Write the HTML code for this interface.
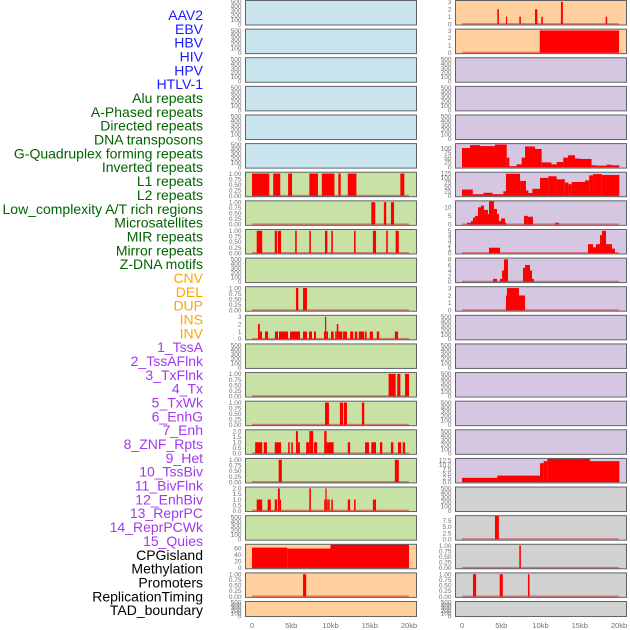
<!DOCTYPE html>
<html><head><meta charset="utf-8"><style>
html,body{margin:0;padding:0;background:#fff;}
svg{display:block;font-family:"Liberation Sans",sans-serif;}
</style></head><body>
<svg id="chart" width="630" height="630" viewBox="0 0 630 630" xmlns="http://www.w3.org/2000/svg">
<g id="labels"></g>
<g id="panels"></g>
<g id="xaxes"></g>
</svg>
<script>
// ---- track labels ----
const labelNames = ["AAV2","EBV","HBV","HIV","HPV","HTLV-1","Alu repeats","A-Phased repeats","Directed repeats","DNA transposons","G-Quadruplex forming repeats","Inverted repeats","L1 repeats","L2 repeats","Low_complexity A/T rich regions","Microsatellites","MIR repeats","Mirror repeats","Z-DNA motifs","CNV","DEL","DUP","INS","INV","1_TssA","2_TssAFlnk","3_TxFlnk","4_Tx","5_TxWk","6_EnhG","7_Enh","8_ZNF_Rpts","9_Het","10_TssBiv","11_BivFlnk","12_EnhBiv","13_ReprPC","14_ReprPCWk","15_Quies","CPGisland","Methylation","Promoters","ReplicationTiming","TAD_boundary"];
const labelGroups = [6,13,5,15,5];
const groupColors = ["#1a1aff","#006400","#ffa500","#a238f0","#000000"];

// ---- x axis ----
const xTickValues = [0,5,10,15,20];
const xTickLabels = ["0","5kb","10kb","15kb","20kb"];

// ---- panel data: [startKb, endKb, value] ----
const L6 = [[0,2.2,1],[2.7,3.6,1],[4.6,5.1,1],[7.3,8.4,1],[8.9,10.5,1],[11.0,11.3,1],[12.2,13.3,1],[18.9,19.4,1]];
const L7 = [[15.2,15.7,1],[16.8,17.1,1],[17.7,18.1,1]];
const L8 = [[0.6,1.3,1],[2.9,3.2,1],[3.3,3.7,1],[5.5,5.7,1],[7.3,7.5,1],[9.3,9.6,1],[10.1,10.3,1],[13.0,13.2,1],[15.4,15.8,1],[17.1,17.3,1],[18.3,18.7,1]];
const L10 = [[5.6,5.9,1],[6.5,7.0,1]];
const L11 = [[0.76,1.0,2],[1.0,1.27,1],[1.66,2.04,1],[2.93,3.31,1],[3.44,4.59,1],[4.84,6.11,1],[6.5,7.0,1],[7.26,7.64,1],[7.9,8.15,1],[9.17,9.3,1],[9.3,9.45,3],[9.45,9.68,1],[10.06,10.4,1],[10.6,10.8,1],[10.8,11.0,2],[11.0,11.5,1],[11.6,12.1,1],[12.5,12.9,1],[13.1,13.4,1],[13.6,14.3,1],[14.4,14.6,1],[15.0,15.4,1],[15.9,16.2,1],[18.2,18.6,1]];
const L13 = [[17.4,18.3,1],[18.5,18.9,1],[19.5,20.0,1]];
const L14 = [[9.3,9.8,1],[11.2,11.6,1],[11.7,12.1,1],[14.0,14.3,1]];
const L15 = [[0.4,1.3,1],[1.5,1.9,1],[2.9,3.7,1],[4.6,4.8,1],[5.0,5.2,1],[5.6,5.85,2],[5.85,6.1,1],[6.9,7.3,1],[7.3,7.8,2],[7.9,8.3,1],[9.2,9.5,2],[9.5,10.4,1],[12.2,12.5,1],[14.4,14.9,1],[15.2,15.8,1],[16.3,16.6,1],[17.7,18.0,1],[18.6,19.0,1],[19.2,19.5,1]];
const L16 = [[3.4,3.8,1],[18.2,18.7,1]];
const L17 = [[0.6,1.3,1],[2.0,2.4,1],[2.9,3.2,1],[3.3,3.55,2],[3.55,3.7,1],[7.3,7.5,2],[9.2,9.35,1],[9.35,9.5,2],[9.5,9.6,1],[9.7,9.9,1],[10.1,10.3,1],[12.2,12.5,1],[13.0,13.2,1],[15.4,15.8,1]];
const L19 = [[0,4.5,62],[4.5,10,59],[10,20,72]];
const L20 = [[6.5,6.9,1]];
const R0 = [[4.5,4.7,2],[5.6,5.75,1],[7.3,7.5,1],[9.3,9.6,2],[10.1,10.3,1],[12.6,12.85,3],[18.3,18.5,1]];
const R1 = [[9.9,20.0,3]];
const R5 = [[0,1.02,100],[1.02,2.29,115],[2.29,4.2,110],[4.2,5.7,118],[5.7,6.03,50],[6.03,6.96,5],[6.96,7.6,15],[7.6,8.03,50],[8.03,9.3,108],[9.3,10.15,95],[10.15,11.4,25],[11.4,12.05,15],[12.05,12.9,27],[12.9,13.5,50],[13.5,14.4,62],[14.4,15.03,45],[15.03,16.5,43],[16.5,17.15,10],[17.15,18.4,8],[18.4,19.07,13],[19.07,20.04,10]];
const R6 = [[0,1.37,35],[1.37,2.72,9],[2.72,3.9,17],[3.9,5.27,9],[5.27,5.6,25],[5.6,7.4,123],[7.4,8.15,83],[8.15,8.45,30],[8.45,8.96,16],[8.96,9.94,39],[9.94,11.0,100],[11.0,12.05,109],[12.05,13.1,92],[13.1,13.55,74],[13.55,13.97,65],[13.97,15.67,77],[15.67,16.2,86],[16.2,16.7,114],[16.7,17.8,121],[17.8,20.04,116]];
const R7 = [[0.64,1.15,1],[1.15,1.4,2],[1.4,1.66,4],[1.66,2.04,5],[2.04,2.42,10],[2.42,2.8,11],[2.8,3.31,8.5],[3.31,3.44,6],[3.44,4.07,14],[4.07,4.46,9],[4.46,4.71,6],[4.71,4.97,2],[4.97,5.48,3.5],[5.48,5.6,1],[7.9,8.4,5],[8.4,9.04,4.5],[11.85,12.36,1]];
const R8 = [[3.44,4.84,1.2],[16.05,16.69,2],[16.69,17.07,1.3],[17.07,17.58,2],[17.58,17.83,4],[17.83,18.35,5],[18.35,19.1,2],[19.1,19.49,1]];
const R9 = [[3.95,4.46,1],[4.84,5.1,1],[5.1,5.35,4],[5.35,5.86,8],[7.77,8.03,5],[8.03,8.66,6],[8.66,8.92,4],[8.92,9.17,1]];
const R10 = [[5.6,5.73,2],[5.73,7.26,3],[7.26,8.03,2]];
const R16 = [[0,4.5,2.4],[4.5,9.94,3.7],[9.94,10.4,10.8],[10.4,10.87,12],[10.87,16.3,13.5],[16.3,20.05,12]];
const R18 = [[4.2,4.7,10]];
const R19 = [[7.3,7.5,1]];
const R20 = [[1.4,1.8,1],[4.8,5.2,1],[8.4,8.6,1]];

// ---- tick label sets ----
const emptyTicks = [0,100,200,300,400,500];
const binTicks = [0,0.25,0.5,0.75,1];
const ticks3 = [0,1,2,3];
const ticks2 = [0,0.5,1,1.5,2];

const BLUE="#c9e4ec", GREEN="#c8e1a4", ORANGE="#ffd09e", PURPLE="#d5c6e2", GREY="#d1d1d1";
// column, row, bg, data, hi, ticks, decimals
const panels = [];
function P(col,row,bg,data,hi,ticks,dec,name){panels.push({col,row,bg,data,hi,ticks,dec,name});}
for(let r=0;r<6;r++) P(0,r,BLUE,null,500,emptyTicks,0,"left-empty-"+r);
P(0,6,GREEN,L6,1,binTicks,2,"left-l6");
P(0,7,GREEN,L7,1,binTicks,2,"left-l7");
P(0,8,GREEN,L8,1,binTicks,2,"left-l8");
P(0,9,GREEN,null,500,emptyTicks,0,"left-empty-9");
P(0,10,GREEN,L10,1,binTicks,2,"left-l10");
P(0,11,GREEN,L11,3,ticks3,0,"left-l11");
P(0,12,GREEN,null,500,emptyTicks,0,"left-empty-12");
P(0,13,GREEN,L13,1,binTicks,2,"left-l13");
P(0,14,GREEN,L14,1,binTicks,2,"left-l14");
P(0,15,GREEN,L15,2,ticks2,1,"left-l15");
P(0,16,GREEN,L16,1,binTicks,2,"left-l16");
P(0,17,GREEN,L17,2,ticks2,1,"left-l17");
P(0,18,GREEN,null,500,emptyTicks,0,"left-empty-18");
P(0,19,ORANGE,L19,68,[0,20,40,60],0,"left-cpg");
P(0,20,ORANGE,L20,1,binTicks,2,"left-l20");
P(0,21,ORANGE,null,500,emptyTicks,0,"left-empty-21");
P(1,0,ORANGE,R0,3,ticks3,0,"right-r0");
P(1,1,ORANGE,R1,3,ticks3,0,"right-r1");
for(let r=2;r<5;r++) P(1,r,PURPLE,null,500,emptyTicks,0,"right-empty-"+r);
P(1,5,PURPLE,R5,116,[0,25,50,75,100],0,"right-r5");
P(1,6,PURPLE,R6,124,[0,25,50,75,100,125],0,"right-r6");
P(1,7,PURPLE,R7,13,[0,5,10],0,"right-r7");
P(1,8,PURPLE,R8,5,[0,1,2,3,4,5],0,"right-r8");
P(1,9,PURPLE,R9,8,[0,2,4,6,8],0,"right-r9");
P(1,10,PURPLE,R10,3,ticks3,0,"right-r10");
for(let r=11;r<16;r++) P(1,r,PURPLE,null,500,emptyTicks,0,"right-empty-"+r);
P(1,16,PURPLE,R16,12.8,[0,2.5,5,7.5,10,12.5],1,"right-r16");
P(1,17,GREY,null,500,emptyTicks,0,"right-empty-17");
P(1,18,GREY,R18,9,[0,2.5,5,7.5],1,"right-r18");
P(1,19,GREY,R19,1,binTicks,2,"right-r19");
P(1,20,GREY,R20,1,binTicks,2,"right-r20");
P(1,21,GREY,null,500,emptyTicks,0,"right-empty-21");

const NS="http://www.w3.org/2000/svg";
function mk(tag,attrs,parent){const e=document.createElementNS(NS,tag);for(const k in attrs)e.setAttribute(k,attrs[k]);parent.appendChild(e);return e;}

// labels
const lg=document.getElementById('labels');
let idx=0;
labelGroups.forEach((n,g)=>{for(let i=0;i<n;i++){
  const t=mk('text',{x:203,y:20+idx*13.84,'text-anchor':'end','font-size':'14',fill:groupColors[g]},lg);
  t.textContent=labelNames[idx];
  
  
  idx++;}});

const colLeft=[245.5,455.5], colW=171, x0=[252,462], pxPerKb=7.85;
function xScale(col,kb){return x0[col]+kb*pxPerKb;}
const pitch=28.62;
const pg=document.getElementById('panels');
panels.forEach(p=>{
  const top=p.row*pitch+0.5;
  const h = p.row===21 ? 15 : 24.5;
  const lo=-p.hi*0.04, hi=p.hi*1.06;
  const yS=v=>top+h-((v-lo)/(hi-lo))*h;
  const g=mk('g',{},pg);
  
  
  const bg=mk('rect',{x:colLeft[p.col],y:top,width:colW,height:h,fill:p.bg},g);
  
  
  const cid='c'+p.col+'_'+p.row;
  const cp=mk('clipPath',{id:cid},g);
  mk('rect',{x:colLeft[p.col],y:top,width:colW,height:h},cp);
  const dg=mk('g',{'clip-path':'url(#'+cid+')'},g);
  if(p.data){
    const base=mk('rect',{x:xScale(p.col,0),y:yS(0)-1,width:20*pxPerKb,height:1.6,fill:'rgba(215,40,40,0.55)'},dg);
    
    
    p.data.forEach(s=>{
      const xa=xScale(p.col,s[0]), xb=xScale(p.col,s[1]);
      const ya=yS(s[2]), yb=yS(0);
      const r=mk('rect',{x:xa,y:ya,width:Math.max(1.2,xb-xa),height:yb-ya,fill:'#ff0000'},dg);
      
      
    });
  }
  const br=mk('rect',{x:colLeft[p.col],y:top,width:colW,height:h,fill:'none',stroke:'#5f6468','stroke-width':1},g);
  
  
  p.ticks.forEach(v=>{
    const t=mk('text',{x:colLeft[p.col]-4,y:yS(v)+2.3,'text-anchor':'end','font-size':'6.5',fill:'#707070'},g);
    t.textContent=v.toFixed(p.dec);
    
    
  });
});

const xg=document.getElementById('xaxes');
[0,1].forEach(col=>{xTickValues.forEach((v,i)=>{
  const t=mk('text',{x:xScale(col,v),y:628,'text-anchor':'middle','font-size':'7.5',fill:'#707070'},xg);
  t.textContent=xTickLabels[i];
  
  
});});
</script>
</body></html>
